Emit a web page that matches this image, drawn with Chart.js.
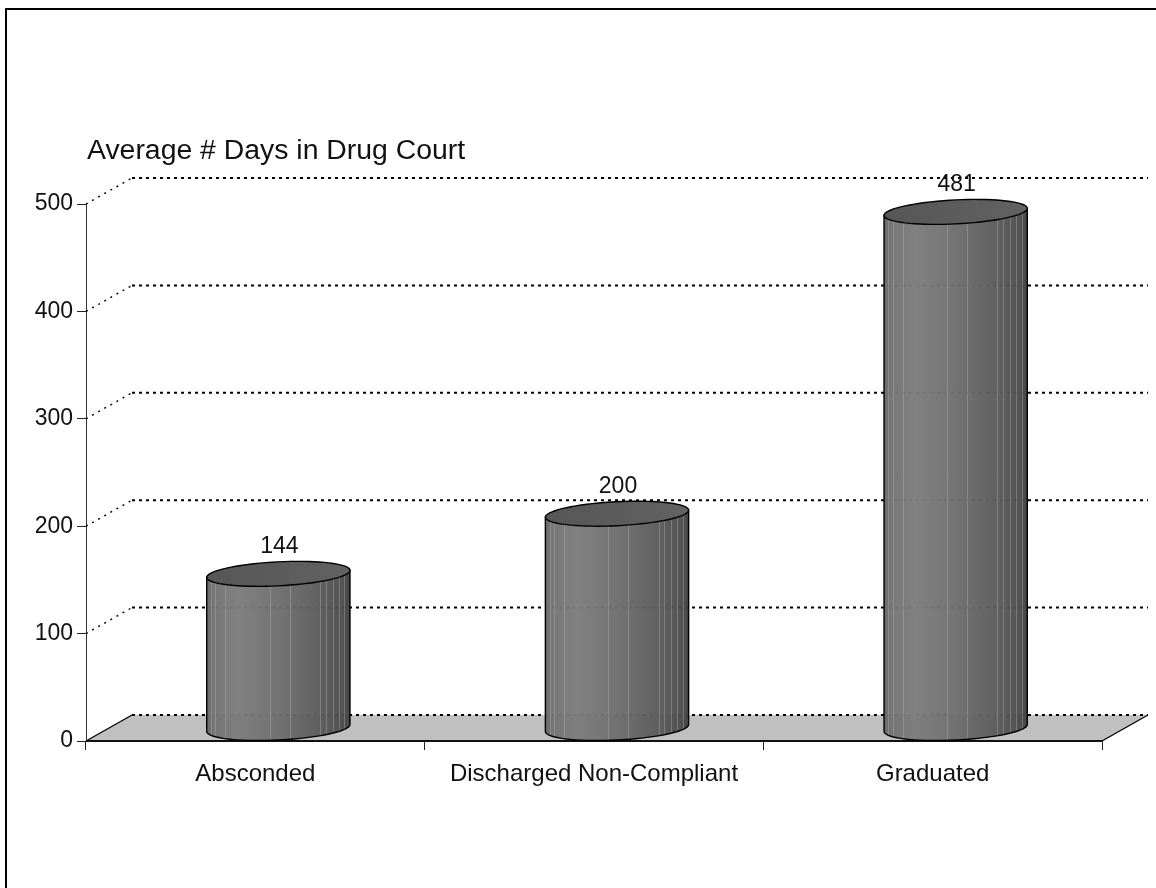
<!DOCTYPE html>
<html>
<head>
<meta charset="utf-8">
<title>Average # Days in Drug Court</title>
<script src="https://cdn.jsdelivr.net/npm/chart.js@4"></script>
<style>
    html, body { margin: 0; padding: 0; background: #fff; overflow: hidden; }
    #wrap { position: relative; width: 1156px; height: 888px; }
    #frameTop { position: absolute; left: 5px; right: 0; top: 8px; height: 2px; background: #000; }
    #frameLeft { position: absolute; left: 5px; top: 8px; bottom: 0; width: 2px; background: #000; }
</style>
</head>
<body>
<div id="wrap">
    <canvas id="chart" width="1156" height="888"></canvas>
    <div id="frameTop"></div>
    <div id="frameLeft"></div>
</div>
<script>
const chartTitle = 'Average # Days in Drug Court';
const categories = ['Absconded', 'Discharged Non-Compliant', 'Graduated'];
const avgDays = [144, 200, 481];
const yTicks = [0, 100, 200, 300, 400, 500];

const FONT = '"Liberation Sans", Arial, sans-serif';
const DEPTH_X = 46;
const DEPTH_Y = 26;

// floor and dotted walls behind the bars
const wallsPlugin = {
    id: 'walls',
    beforeDatasetsDraw(chart) {
        const { ctx, chartArea: a, scales: { y } } = chart;
        const zero = y.getPixelForValue(0);

        ctx.save();
        ctx.fillStyle = '#c0c0c0';
        ctx.beginPath();
        ctx.moveTo(a.left, zero);
        ctx.lineTo(a.left + DEPTH_X, zero - DEPTH_Y);
        ctx.lineTo(a.right + DEPTH_X, zero - DEPTH_Y);
        ctx.lineTo(a.right, zero);
        ctx.closePath();
        ctx.fill();

        ctx.strokeStyle = '#000';
        ctx.lineWidth = 1.3;
        ctx.beginPath();
        ctx.moveTo(a.left, zero);
        ctx.lineTo(a.left + DEPTH_X, zero - DEPTH_Y);
        ctx.moveTo(a.right, zero);
        ctx.lineTo(a.right + DEPTH_X, zero - DEPTH_Y);
        ctx.stroke();

        // dotted grid lines run up the side wall and along the back
        yTicks.forEach(v => {
            const py = y.getPixelForValue(v);
            if (v > 0) {
                ctx.lineWidth = 1.4;
                ctx.setLineDash([2, 5]);
                ctx.beginPath();
                ctx.moveTo(a.left, py);
                ctx.lineTo(a.left + DEPTH_X, py - DEPTH_Y);
                ctx.stroke();
            }
            ctx.lineWidth = 2;
            ctx.setLineDash([3, 4]);
            ctx.beginPath();
            ctx.moveTo(a.left + DEPTH_X, py - DEPTH_Y);
            ctx.lineTo(a.right + DEPTH_X, py - DEPTH_Y);
            ctx.stroke();
        });
        ctx.setLineDash([]);

        // solid front edge of the floor
        ctx.strokeStyle = '#111';
        ctx.lineWidth = 2.2;
        ctx.beginPath();
        ctx.moveTo(a.left, zero);
        ctx.lineTo(a.right, zero);
        ctx.stroke();
        ctx.restore();
    }
};

// bars are drawn as cylinders from the positions Chart.js worked out
function sidePath(ctx, cx, topY, baseY, rX, rY, tilt) {
    ctx.beginPath();
    ctx.moveTo(cx - rX, topY + tilt);
    ctx.lineTo(cx + rX, topY - tilt);
    for (let k = 0; k <= 36; k++) {
        const t = k / 36 * Math.PI;
        ctx.lineTo(cx + rX * Math.cos(t), baseY + rY * Math.sin(t) - tilt * Math.cos(t));
    }
    ctx.closePath();
}

function ellipsePath(ctx, cx, cy, rX, rY, tilt) {
    ctx.beginPath();
    for (let i = 0; i <= 72; i++) {
        const t = i / 72 * Math.PI * 2;
        const px = cx + rX * Math.cos(t);
        const py = cy + rY * Math.sin(t) - tilt * Math.cos(t);
        if (i === 0) ctx.moveTo(px, py); else ctx.lineTo(px, py);
    }
    ctx.closePath();
}

const cylinderPlugin = {
    id: 'cylinders',
    afterDatasetsDraw(chart) {
        const { ctx } = chart;
        const meta = chart.getDatasetMeta(0);
        const streaks = [0.03, 0.06, 0.13, 0.44, 0.58, 0.79, 0.83, 0.88, 0.92, 0.96];
        const rY = 12;
        const tilt = 3.5;

        meta.data.forEach((bar, i) => {
            const rX = bar.width / 2;
            const cx = bar.x + DEPTH_X / 2;
            const left = cx - rX;
            const right = cx + rX;
            const topY = bar.y - 12.5;
            const baseY = bar.base - 12.5;

            const grad = ctx.createLinearGradient(left, 0, right, 0);
            grad.addColorStop(0, '#666666');
            grad.addColorStop(0.05, '#727272');
            grad.addColorStop(0.22, '#7c7c7c');
            grad.addColorStop(0.5, '#6e6e6e');
            grad.addColorStop(0.8, '#5a5a5a');
            grad.addColorStop(0.95, '#4c4c4c');
            grad.addColorStop(1, '#3e3e3e');

            ctx.save();
            sidePath(ctx, cx, topY, baseY, rX, rY, tilt);
            ctx.globalAlpha = 0.96;
            ctx.fillStyle = grad;
            ctx.fill();
            ctx.globalAlpha = 1;

            // thin light facets on the side
            ctx.save();
            ctx.clip();
            ctx.strokeStyle = 'rgba(190,190,190,0.35)';
            ctx.lineWidth = 1;
            streaks.forEach(f => {
                const sx = Math.round(left + f * bar.width) + 0.5;
                ctx.beginPath();
                ctx.moveTo(sx, topY - 14);
                ctx.lineTo(sx, baseY + 14);
                ctx.stroke();
            });
            ctx.restore();

            ctx.strokeStyle = '#000';
            ctx.lineWidth = 1.4;
            sidePath(ctx, cx, topY, baseY, rX, rY, tilt);
            ctx.stroke();

            const capGrad = ctx.createLinearGradient(left, 0, right, 0);
            capGrad.addColorStop(0, '#565656');
            capGrad.addColorStop(1, '#626262');
            ellipsePath(ctx, cx, topY, rX, rY, tilt);
            ctx.fillStyle = capGrad;
            ctx.fill();
            ctx.stroke();

            ctx.fillStyle = '#111';
            ctx.font = '23px ' + FONT;
            ctx.textAlign = 'center';
            ctx.textBaseline = 'alphabetic';
            ctx.fillText(String(avgDays[i]), cx + 1, topY - 21);
            ctx.restore();
        });
    },
    afterDraw(chart) {
        const { ctx, chartArea: a } = chart;
        ctx.save();
        ctx.fillStyle = '#111';
        ctx.font = '28.4px ' + FONT;
        ctx.textAlign = 'left';
        ctx.textBaseline = 'alphabetic';
        ctx.fillText(chartTitle, a.left + 1, 159);
        ctx.restore();
    }
};

new Chart(document.getElementById('chart'), {
    type: 'bar',
    data: {
        labels: categories,
        datasets: [{
            data: avgDays,
            backgroundColor: 'rgba(0,0,0,0)',
            borderWidth: 0,
            categoryPercentage: 1,
            barPercentage: 0.423
        }]
    },
    options: {
        responsive: false,
        animation: false,
        layout: { padding: { left: 0, right: 54, top: 204, bottom: 0 } },
        plugins: {
            legend: { display: false },
            tooltip: { enabled: false },
            title: { display: false }
        },
        scales: {
            x: {
                grid: { drawOnChartArea: false, tickLength: 9, color: '#222', offset: true },
                border: { color: '#222' },
                ticks: { color: '#111', font: { family: FONT, size: 24 }, padding: 10, maxRotation: 0 },
                afterFit(scale) { scale.height = 147; }
            },
            y: {
                min: 0,
                max: 500,
                grid: { drawOnChartArea: false, tickLength: 9, color: '#222' },
                border: { color: '#333' },
                ticks: {
                    color: '#111',
                    font: { family: FONT, size: 23 },
                    padding: 4,
                    stepSize: 100,
                    callback: v => yTicks.includes(v) ? String(v) : ''
                },
                afterFit(scale) { scale.width = 86; }
            }
        }
    },
    plugins: [wallsPlugin, cylinderPlugin]
});
</script>
</body>
</html>
